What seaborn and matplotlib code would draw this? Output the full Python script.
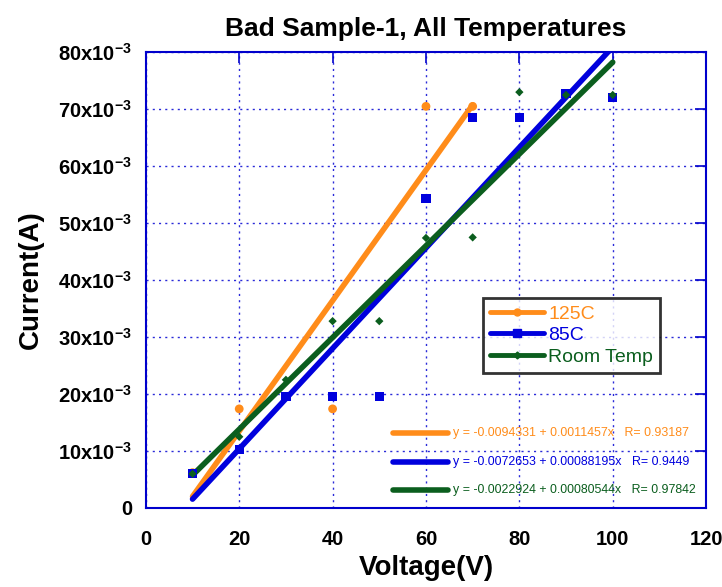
import numpy as np
import pandas as pd
import matplotlib
matplotlib.use('Agg')
import matplotlib.pyplot as plt
import matplotlib.ticker as ticker
from matplotlib.lines import Line2D
import seaborn as sns

# data (current in A)
v_125 = [10, 20, 40, 60, 70]
i_125 = [6.2e-3, 17.4e-3, 17.4e-3, 70.5e-3, 70.5e-3]

v_85 = [10, 20, 30, 40, 50, 60, 70, 80, 90, 100]
i_85 = [6.1e-3, 10.3e-3, 19.6e-3, 19.6e-3, 19.6e-3, 54.3e-3, 68.6e-3, 68.6e-3, 72.7e-3, 72.0e-3]

v_rt = [10, 20, 30, 40, 50, 60, 70, 80, 90, 100]
i_rt = [6.0e-3, 12.5e-3, 22.5e-3, 32.8e-3, 32.8e-3, 47.4e-3, 47.5e-3, 73.0e-3, 72.5e-3, 72.5e-3]

# fit coefficients shown on the chart
fits = {
    '125C': (-0.0094331, 0.0011457, 0.93187, [10, 70]),
    '85C': (-0.0072653, 0.00088195, 0.9449, [10, 100]),
    'Room Temp': (-0.0022924, 0.00080544, 0.97842, [10, 100]),
}
fit_text = [
    'y = -0.0094331 + 0.0011457x   R= 0.93187',
    'y = -0.0072653 + 0.00088195x   R= 0.9449',
    'y = -0.0022924 + 0.00080544x   R= 0.97842',
]

colors = {'125C': '#ff8c1a', '85C': '#0000dd', 'Room Temp': '#0b5e1e'}
markers = {'125C': 'o', '85C': 's', 'Room Temp': 'D'}
msizes = {'125C': 40, '85C': 45, 'Room Temp': 18}

sns.set_style('white')
plt.rcParams['font.family'] = ['Liberation Sans', 'DejaVu Sans']
plt.rcParams['mathtext.fontset'] = 'custom'
plt.rcParams['mathtext.bf'] = 'Liberation Sans:bold'
plt.rcParams['mathtext.rm'] = 'Liberation Sans:bold'
plt.rcParams['mathtext.default'] = 'bf'

fig = plt.figure(figsize=(7.22, 5.87), dpi=100)
ax = fig.add_axes([0.202, 0.1346, 0.776, 0.7764])

pts = pd.concat([
    pd.DataFrame({'V': v_125, 'I': i_125, 'T': '125C'}),
    pd.DataFrame({'V': v_85, 'I': i_85, 'T': '85C'}),
    pd.DataFrame({'V': v_rt, 'I': i_rt, 'T': 'Room Temp'}),
])

# fit lines
for name, (b, m, r, xr) in fits.items():
    xs = np.array(xr, dtype=float)
    sns.lineplot(x=xs, y=b + m * xs, color=colors[name], lw=4, ax=ax,
                 solid_capstyle='round', zorder=3)

for name in ['125C', '85C', 'Room Temp']:
    d = pts[pts['T'] == name]
    sns.scatterplot(data=d, x='V', y='I', color=colors[name], marker=markers[name],
                    s=msizes[name], edgecolor='none', ax=ax, zorder=4)

ax.set_xlim(0, 120)
ax.set_ylim(0, 0.08)
ax.xaxis.set_major_locator(ticker.MultipleLocator(20))
ax.yaxis.set_major_locator(ticker.MultipleLocator(0.01))


def yfmt(v, pos):
    n = int(round(v * 1000))
    if n == 0:
        return '0'
    return f'{n}x10$^{{-3}}$'


ax.yaxis.set_major_formatter(ticker.FuncFormatter(yfmt))

frame = '#0000cc'
for s in ax.spines.values():
    s.set_color(frame)
    s.set_linewidth(1.5)
ax.tick_params(direction='in', length=8, width=1.2, color=frame, labelcolor='black',
               top=True, right=True, labelsize=14.5)
ax.tick_params(axis='x', pad=16)
ax.tick_params(axis='y', pad=10)
for lab in ax.get_xticklabels() + ax.get_yticklabels():
    lab.set_fontweight('bold')
ax.grid(True, color='#2a2ad8', linestyle=(0, (1.5, 3)), linewidth=1)
ax.set_axisbelow(True)

ax.set_title('Bad Sample-1, All Temperatures', fontsize=19, fontweight='bold', pad=12,
             color='black')
ax.set_xlabel('Voltage(V)', fontsize=20, fontweight='bold', labelpad=4, color='black')
ax.set_ylabel('Current(A)', fontsize=20, fontweight='bold', labelpad=10, color='black')

# legend
handles = [Line2D([0], [0], color=colors[n], lw=3.5, marker=markers[n],
                  markersize={'125C': 5, '85C': 6, 'Room Temp': 3.5}[n]) for n in fits]
leg = ax.legend(handles, list(fits.keys()), loc='upper left', bbox_to_anchor=(0.602, 0.46),
                fontsize=14, frameon=True, fancybox=False, handlelength=2.8,
                handletextpad=0.2, borderpad=0.35, labelspacing=0.2, borderaxespad=0)
leg.get_frame().set_edgecolor('black')
leg.get_frame().set_linewidth(2)
for t, n in zip(leg.get_texts(), fits):
    t.set_color(colors[n])

# fit annotations
ys = [0.164, 0.101, 0.039]
for (name, txt, yy) in zip(fits, fit_text, ys):
    ax.plot([0.441, 0.539], [yy, yy], transform=ax.transAxes, color=colors[name], lw=4, zorder=5)
    ax.text(0.548, yy, txt, transform=ax.transAxes, color=colors[name], fontsize=8.9,
            va='center', ha='left', zorder=5)

plt.savefig('out.png', dpi=100)
